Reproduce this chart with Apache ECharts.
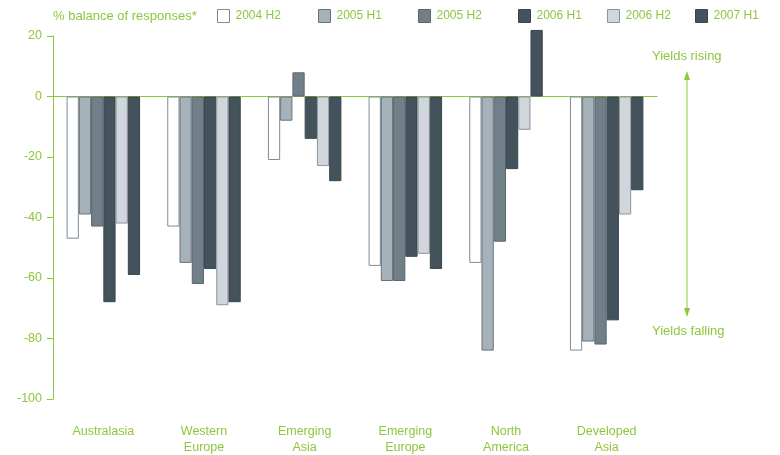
<!DOCTYPE html>
<html><head><meta charset="utf-8">
<script src="https://cdn.jsdelivr.net/npm/echarts@6/dist/echarts.min.js"></script>
<style>html,body{margin:0;padding:0;background:#fff}#c{width:780px;height:455px}</style>
</head><body><div id="c"></div>
<script>
const categories = ['Australasia', 'Western\nEurope', 'Emerging\nAsia', 'Emerging\nEurope', 'North\nAmerica', 'Developed\nAsia'];
const seriesNames = ['2004 H2', '2005 H1', '2005 H2', '2006 H1', '2006 H2', '2007 H1'];
const s2004H2 = [-47, -43, -21, -56, -55, -84];
const s2005H1 = [-39, -55, -8, -61, -84, -81];
const s2005H2 = [-43, -62, 8, -61, -48, -82];
const s2006H1 = [-68, -57, -14, -53, -24, -74];
const s2006H2 = [-42, -69, -23, -52, -11, -39];
const s2007H1 = [-59, -68, -28, -57, 22, -31];
const yTicks = [20, 0, -20, -40, -60, -80, -100];

const values = [s2004H2, s2005H1, s2005H2, s2006H1, s2006H2, s2007H1];
const fills = ['#ffffff', '#a7b1b9', '#717f89', '#44525c', '#d0d6dc', '#44525c'];
const borders = ['#7f8b94', '#66737c', '#5a6770', '#3a474f', '#8a959d', '#3a474f'];
const green = '#8dc63f';
const font = "'Liberation Sans', Arial, sans-serif";

const chart = echarts.init(document.getElementById('c'), null, {renderer: 'canvas'});
const legendLefts = [217, 318, 418, 518, 607, 695];
const option = {
  animation: false,
  textStyle: {fontFamily: font},
  title: {text: '% balance of responses*', left: 48, top: 5,
    textStyle: {color: green, fontSize: 13, fontWeight: 'normal', fontFamily: font}},
  legend: seriesNames.map((n, i) => ({
    data: [n], left: legendLefts[i], top: 9, padding: 0, icon: 'rect',
    itemWidth: 12, itemHeight: 13, itemGap: 0,
    itemStyle: {borderWidth: 1},
    textStyle: {color: green, fontSize: 12, fontFamily: font, padding: [3, 0, 0, 1]},
    selectedMode: false
  })),
  grid: {left: 53, right: 123, top: 36, bottom: 56, outerBoundsMode: 'none', containLabel: false},
  xAxis: {
    type: 'category', data: categories,
    axisLine: {lineStyle: {color: green, width: 1}},
    axisTick: {show: false},
    axisLabel: {color: green, fontSize: 12.5, margin: 25, lineHeight: 16, fontFamily: font}
  },
  yAxis: {
    type: 'value', min: -100, max: 20, interval: 20,
    axisLine: {show: true, lineStyle: {color: green, width: 1}},
    axisTick: {show: true, length: 6, lineStyle: {color: green}},
    splitLine: {show: false},
    axisLabel: {color: green, fontSize: 12.5, margin: 11, fontFamily: font,
      formatter: v => yTicks.includes(v) ? String(v) : ''}
  },
  series: seriesNames.map((n, i) => ({
    name: n, type: 'bar', data: values[i], clip: false,
    barGap: '0%', barCategoryGap: '27%',
    itemStyle: {color: fills[i], borderColor: borders[i], borderWidth: 1}
  })),
  graphic: [
    {type: 'text', left: 652, top: 50, style: {text: 'Yields rising', fill: green, font: '13px ' + font}},
    {type: 'text', left: 652, top: 325, style: {text: 'Yields falling', fill: green, font: '13px ' + font}},
    {type: 'line', shape: {x1: 687, y1: 76, x2: 687, y2: 312}, style: {stroke: green, lineWidth: 1}},
    {type: 'polygon', shape: {points: [[687, 71], [684, 80], [690, 80]]}, style: {fill: green}},
    {type: 'polygon', shape: {points: [[687, 317], [684, 308], [690, 308]]}, style: {fill: green}}
  ]
};
chart.setOption(option);
</script></body></html>
